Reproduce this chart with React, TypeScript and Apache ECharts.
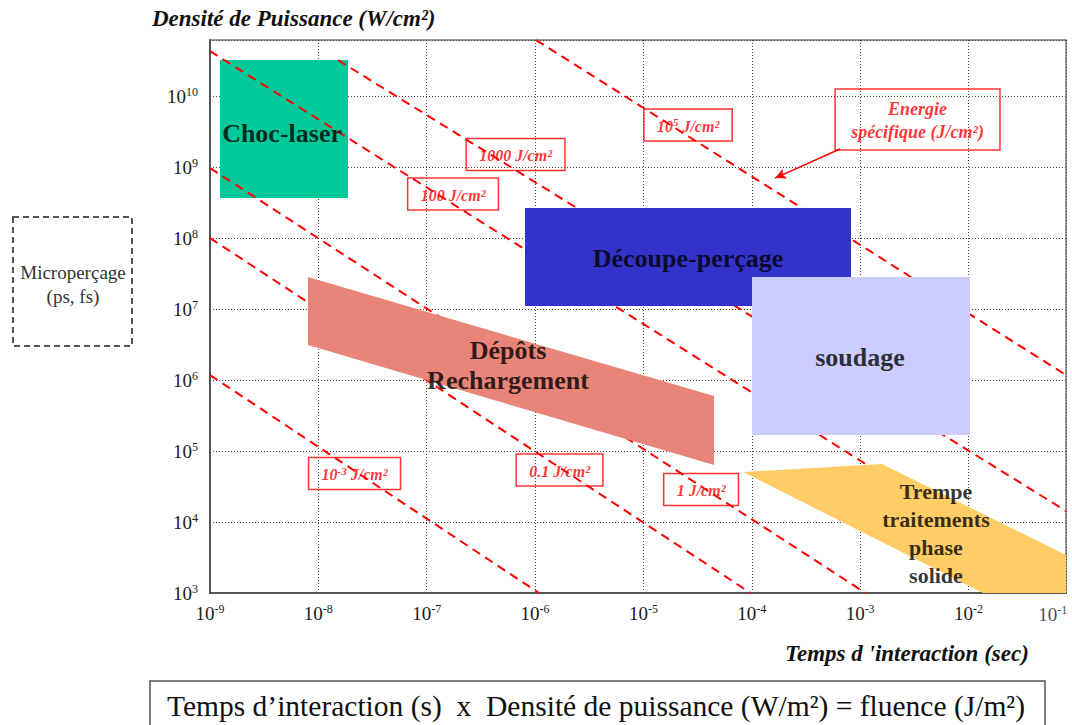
import React, { useEffect, useRef } from "react";
import * as echarts from "echarts";

// Axes (log10 of interaction time in s, log10 of power density in W/cm²)
const xExponents = [-9, -8, -7, -6, -5, -4, -3, -2, -1];
const yExponents = [3, 4, 5, 6, 7, 8, 9, 10];
const X_MIN = -9;
const X_MAX = -1.1;
const Y_MIN = 3;
const Y_MAX = 10.79;

// Iso-fluence lines (log t, log P) start / end
const fluenceStarts = [[-9, 6.07], [-9, 8.0], [-9, 8.986], [-9, 10.634], [-7.819, 10.507], [-5.991, 10.789]];
const fluenceEnds = [[-5.964, 3], [-4.01, 3], [-2.95, 3], [-1.1, 3.04], [-1.1, 4.155], [-1.1, 6.07]];

// Process zones
const zoneNames = ["Choc-laser", "Découpe-perçage", "soudage", "Dépôts\nRechargement", "Trempe\ntraitements\nphase\nsolide"];
const zoneVertices = [
  [[-8.908, 8.563], [-7.726, 8.563], [-7.726, 10.507], [-8.908, 10.507]],
  [[-6.093, 7.042], [-3.084, 7.042], [-3.084, 8.423], [-6.093, 8.423]],
  [[-3.998, 5.225], [-1.986, 5.225], [-1.986, 7.451], [-3.998, 7.451]],
  [[-8.096, 7.451], [-8.096, 6.493], [-4.348, 4.803], [-4.348, 5.775]],
  [[-4.081, 4.704], [-2.798, 4.817], [-1.1, 3.535], [-1.1, 3.0], [-1.866, 3.0]],
];
const zoneLabelAt = [[-8.335, 9.479], [-4.588, 7.718], [-3.001, 6.324], [-6.25, 6.211], [-2.3, 3.84]];
const zoneColors = ["#00C999", "#3333CC", "#CCCCFF", "#E88478", "#FFCC66"];

// Fluence annotation boxes
const noteLabels = ["100 J/cm²", "1000 J/cm²", "10^5 J/cm²", "10^-3 J/cm²", "0.1 J/cm²", "1 J/cm²"];
const noteAt = [[-6.757, 8.62], [-6.18, 9.176], [-4.588, 9.592], [-7.666, 4.683], [-5.774, 4.732], [-4.468, 4.458]];
const energyLabel = "Energie\nspécifique (J/cm²)";
const energyAt = [-2.47, 9.669];
const arrowFrom = [-3.186, 9.254];
const arrowTo = [-3.785, 8.845];

const SERIF = '"Liberation Serif", "Times New Roman", serif';
const RED = "#FF0000";

function toRich(s: string, t = "t", sup = "s") {
  const m = s.match(/^10\^(-?\d+)(.*)$/);
  if (m) return `{${t}|10}{${sup}|${m[1]}}{${t}|${m[2]}}`;
  return `{${t}|${s}}`;
}

export default function App() {
  const ref = useRef<HTMLDivElement>(null);
  useEffect(() => {
    if (!ref.current) return;
    const chart = echarts.init(ref.current, null, { renderer: "svg" });
    const tickRich = {
      b: { fontFamily: SERIF, fontSize: 19, color: "#1a1a1a" },
      s: { fontFamily: SERIF, fontSize: 12, color: "#1a1a1a", padding: [0, 0, 9, 0] },
    };
    const noteRich = {
      t: { fontFamily: SERIF, fontSize: 16, fontStyle: "italic", fontWeight: "bold", color: RED, lineHeight: 22 },
      s: { fontFamily: SERIF, fontSize: 11, fontStyle: "italic", fontWeight: "bold", color: RED, padding: [0, 0, 8, 0] },
    };
    const energyRich = {
      t: { fontFamily: SERIF, fontSize: 18, fontStyle: "italic", fontWeight: "bold", color: RED, lineHeight: 23 },
    };
    const lineSeries = fluenceStarts.map((s, i) => ({
      type: "line",
      data: [s, fluenceEnds[i]],
      symbol: "none",
      z: 3,
      silent: true,
      lineStyle: { color: RED, width: 2, type: [9, 6] },
    }));
    const polyRender = (params: any, api: any) => {
      const idx = api.value(0);
      const pts = zoneVertices[idx].map((p) => api.coord(p));
      return { type: "polygon", shape: { points: pts }, style: { fill: zoneColors[idx] } };
    };
    const scatterBase = { type: "scatter", silent: true, symbolSize: 1, itemStyle: { color: "transparent" } };
    chart.setOption({
      animation: false,
      grid: { left: 210, top: 40, width: 856, height: 553, show: true, borderColor: "#777", borderWidth: 1.5 },
      xAxis: {
        type: "value",
        min: X_MIN,
        max: X_MAX,
        interval: 1,
        axisLine: { show: true, onZero: false, lineStyle: { color: "#555", width: 2 } },
        axisTick: { show: false },
        splitLine: { show: true, lineStyle: { color: "#444", width: 1, type: [1, 2] } },
        axisLabel: {
          margin: 10,
          formatter: (v: number) => (xExponents.includes(v) ? `{b|10}{s|${v}}` : ""),
          rich: tickRich,
        },
      },
      yAxis: {
        type: "value",
        min: Y_MIN,
        max: Y_MAX,
        interval: 1,
        axisLine: { show: true, onZero: false, lineStyle: { color: "#555", width: 2 } },
        axisTick: { show: false },
        splitLine: { show: true, lineStyle: { color: "#444", width: 1, type: [1, 2] } },
        axisLabel: {
          margin: 12,
          formatter: (v: number) => (yExponents.includes(v) ? `{b|10}{s|${v}}` : ""),
          rich: tickRich,
        },
      },
      series: [
        { type: "custom", z: 2, silent: true, data: [[0]], renderItem: polyRender },
        ...lineSeries,
        { type: "custom", z: 4, silent: true, data: [[1], [2], [3], [4]], renderItem: polyRender },
        {
          ...scatterBase,
          z: 6,
          data: zoneLabelAt.slice(0, 4).map((p, i) => [p[0], p[1], zoneNames[i]]),
          label: {
            show: true,
            position: "inside",
            align: "center",
            formatter: (p: any) => p.data[2],
            fontFamily: SERIF,
            fontWeight: "bold",
            color: "#000",
            fontSize: 26,
            lineHeight: 30,
          },
        },
        {
          ...scatterBase,
          z: 6,
          data: [[zoneLabelAt[4][0], zoneLabelAt[4][1], zoneNames[4]]],
          label: {
            show: true,
            position: "inside",
            align: "center",
            formatter: (p: any) => p.data[2],
            fontFamily: SERIF,
            fontWeight: "bold",
            color: "#000",
            fontSize: 22,
            lineHeight: 28,
          },
        },
        {
          ...scatterBase,
          z: 7,
          data: noteAt.map((p, i) => [p[0], p[1], noteLabels[i]]),
          label: {
            show: true,
            position: "inside",
            formatter: (p: any) => toRich(p.data[2]),
            rich: noteRich,
            borderColor: RED,
            borderWidth: 1.5,
            padding: [6, 13, 4, 13],
          },
        },
        {
          ...scatterBase,
          z: 7,
          data: [[energyAt[0], energyAt[1], energyLabel]],
          label: {
            show: true,
            position: "inside",
            align: "center",
            formatter: (p: any) => p.data[2].split("\n").map((l: string) => toRich(l)).join("\n"),
            rich: energyRich,
            borderColor: RED,
            borderWidth: 1.5,
            padding: [8, 16, 7, 16],
          },
          markLine: {
            silent: true,
            symbol: ["none", "arrow"],
            symbolSize: [8, 11],
            label: { show: false },
            lineStyle: { color: RED, type: "solid", width: 1.5 },
            data: [[{ coord: arrowFrom }, { coord: arrowTo }]],
          },
        },
        {
          ...scatterBase,
          clip: false,
          data: [[xExponents[xExponents.length - 1], Y_MIN]],
          label: {
            show: true,
            position: "bottom",
            distance: 10,
            offset: [-24, 0],
            formatter: `{b|10}{s|${xExponents[xExponents.length - 1]}}`,
            rich: tickRich,
          },
        },
      ],
      graphic: [
        {
          type: "text",
          left: 152,
          top: 7,
          style: { text: "Densité de Puissance (W/cm²)", fontFamily: SERIF, fontSize: 23, fontStyle: "italic", fontWeight: "bold", fill: "#111" },
        },
        {
          type: "text",
          left: 785,
          top: 642,
          style: { text: "Temps d 'interaction (sec)", fontFamily: SERIF, fontSize: 23, fontStyle: "italic", fontWeight: "bold", fill: "#111" },
        },
        {
          type: "rect",
          shape: { x: 13, y: 217, width: 119, height: 129 },
          style: { fill: "none", stroke: "#555", lineWidth: 2, lineDash: [6, 4] },
        },
        {
          type: "text",
          x: 73,
          y: 272,
          style: { text: "Microperçage", align: "center", verticalAlign: "middle", fontFamily: SERIF, fontSize: 19, fill: "#333" },
        },
        {
          type: "text",
          x: 73,
          y: 296,
          style: { text: "(ps, fs)", align: "center", verticalAlign: "middle", fontFamily: SERIF, fontSize: 19, fill: "#333" },
        },
        {
          type: "rect",
          shape: { x: 150, y: 681, width: 895, height: 60 },
          style: { fill: "none", stroke: "#555", lineWidth: 1.5 },
        },
        {
          type: "text",
          x: 596,
          y: 706,
          style: {
            text: "Temps d’interaction (s)  x  Densité de puissance (W/m²) = fluence (J/m²)",
            align: "center",
            verticalAlign: "middle",
            fontFamily: SERIF,
            fontSize: 29.5,
            fill: "#111",
          },
        },
      ],
    });
    return () => chart.dispose();
  }, []);
  return <div ref={ref} style={{ position: "fixed", left: 0, top: 0, width: 1072, height: 725, background: "#fff" }} />;
}
